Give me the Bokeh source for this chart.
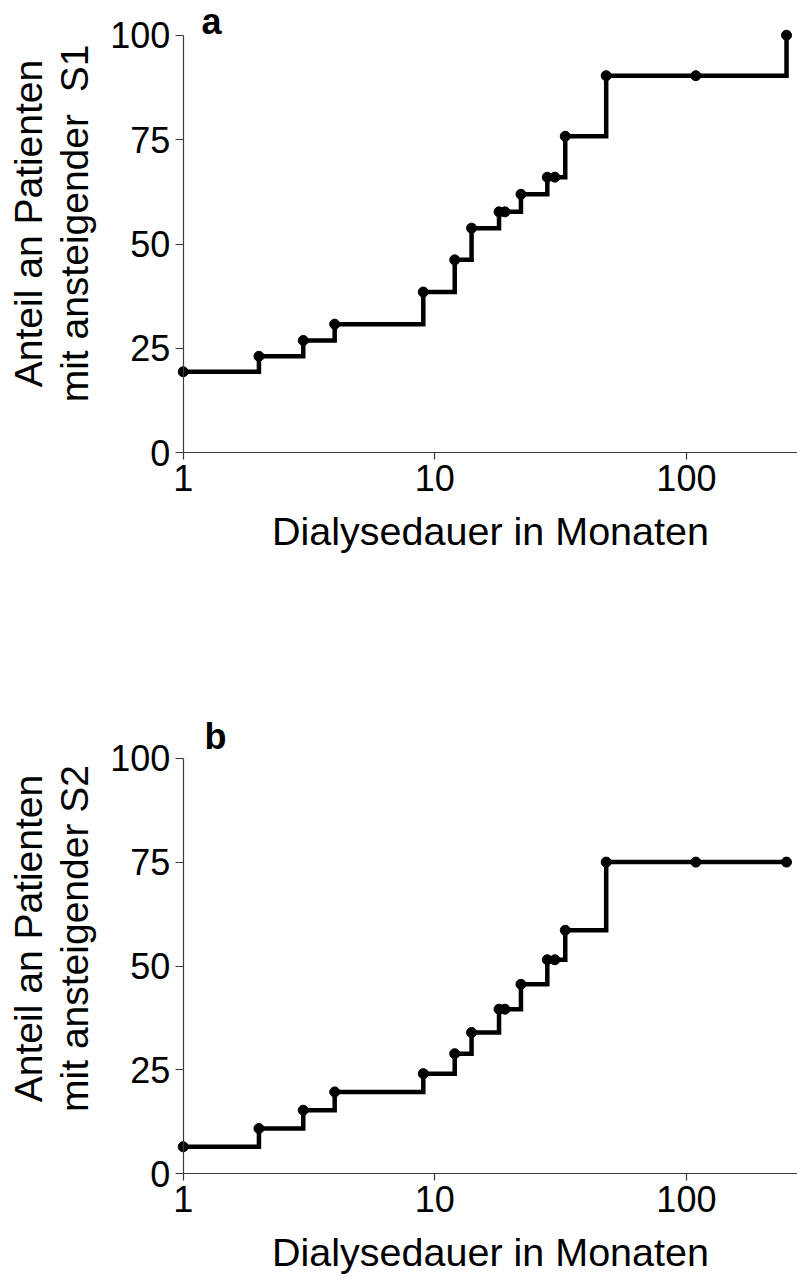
import math
from bokeh.plotting import figure
from bokeh.models import Range1d, FixedTicker, Label, PrintfTickFormatter
from bokeh.layouts import column
from bokeh.embed import file_html
from bokeh.resources import INLINE

# ---- data ----
months = [1, 2, 3, 4, 9, 12, 14, 18, 19, 22, 28, 30, 33, 48, 109, 250]
share_s1 = [19.4, 23.1, 26.9, 30.8, 38.5, 46.2, 53.8, 57.7, 57.7, 61.9, 66.0, 66.0, 75.8, 90.3, 90.3, 100.0]
share_s2 = [6.5, 10.9, 15.3, 19.7, 24.1, 28.9, 34.0, 39.6, 39.6, 45.6, 51.5, 51.5, 58.6, 75.0, 75.0, 75.0]
x_ticks = [1, 10, 100]
y_ticks = [0, 25, 50, 75, 100]
x_title = "Dialysedauer in Monaten"
y_title_line1 = "Anteil an Patienten"
y_title_line2 = ["mit ansteigender \u00a0S1", "mit ansteigender S2"]
panel_tags = ["a", "b"]

FONT = "Liberation Sans"
AXIS_COLOR = "#3a3a3a"
WIDTH = 797

# layout helpers: log x axis has 1 at 182.7 px and 251.6 px per decade
PX_ONE = 182.7
PX_DEC = 251.6


def px_to_x(px):
    return 10 ** ((px - PX_ONE) / PX_DEC)


X_START = px_to_x(0)
X_END = px_to_x(WIDTH)


def make_panel(values, tag, title2, height, zero_px, px_per_unit, tag_px, tag_base_px, title_center_px):
    def py_to_y(py):
        return (zero_px - py) / px_per_unit

    p = figure(width=WIDTH, height=height, x_axis_type="log",
               x_range=Range1d(X_START, X_END),
               y_range=Range1d(py_to_y(height), py_to_y(0)),
               output_backend="svg", toolbar_location=None,
               min_border_left=0, min_border_right=0,
               min_border_top=0, min_border_bottom=0)
    p.outline_line_color = None
    p.background_fill_color = "white"
    p.border_fill_color = "white"
    p.xgrid.visible = False
    p.ygrid.visible = False

    xa = p.xaxis[0]
    xa.fixed_location = 0
    xa.bounds = (1, X_END)
    xa.ticker = FixedTicker(ticks=x_ticks, minor_ticks=[])
    xa.formatter = PrintfTickFormatter(format="%d")
    xa.axis_line_color = AXIS_COLOR
    xa.axis_line_width = 1.2
    xa.major_tick_line_color = AXIS_COLOR
    xa.major_tick_line_width = 1.2
    xa.major_tick_out = 7
    xa.major_tick_in = 0
    xa.minor_tick_out = 0
    xa.minor_tick_in = 0
    xa.major_label_text_font = FONT
    xa.major_label_text_font_size = "36px"
    xa.major_label_text_color = "black"
    xa.major_label_standoff = 5
    xa.axis_label = x_title
    xa.axis_label_text_font = FONT
    xa.axis_label_text_font_size = "39.5px"
    xa.axis_label_text_font_style = "normal"
    xa.axis_label_text_color = "black"
    xa.axis_label_standoff = 15

    ya = p.yaxis[0]
    ya.fixed_location = 1
    ya.bounds = (0, 100)
    ya.ticker = FixedTicker(ticks=y_ticks, minor_ticks=[])
    ya.axis_line_color = AXIS_COLOR
    ya.axis_line_width = 1.2
    ya.major_tick_line_color = AXIS_COLOR
    ya.major_tick_line_width = 1.2
    ya.major_tick_out = 8
    ya.major_tick_in = 0
    ya.minor_tick_out = 0
    ya.minor_tick_in = 0
    ya.major_label_text_font = FONT
    ya.major_label_text_font_size = "36px"
    ya.major_label_text_color = "black"
    ya.major_label_standoff = 5

    p.step(months, values, mode="after", line_width=4.5, line_color="black",
           line_join="miter", line_cap="butt")
    p.scatter(months, values, size=10, fill_color="black", line_color="black")

    for text, px in [(y_title_line1, 28.0), (title2, 74.3)]:
        p.add_layout(Label(x=px_to_x(px), y=py_to_y(title_center_px), text=text, angle=math.pi / 2,
                           text_align="center", text_baseline="alphabetic",
                           text_font=FONT, text_font_size="39px", text_color="black"))

    p.add_layout(Label(x=px_to_x(tag_px), y=py_to_y(tag_base_px), text=tag, text_align="left",
                       text_baseline="alphabetic", text_font=FONT, text_font_size="36px",
                       text_font_style="bold", text_color="black"))
    return p


# panel a occupies page rows 0..640, panel b rows 640..1283
pa = make_panel(share_s1, panel_tags[0], y_title_line2[0], 640, 452.3, 4.176, 201, 20.5, 223)
pb = make_panel(share_s2, panel_tags[1], y_title_line2[1], 643, 533.3, 4.156, 204, 96.0, 298)

layout = column(pa, pb, spacing=0)
open("out.html", "w").write(file_html(layout, INLINE))
